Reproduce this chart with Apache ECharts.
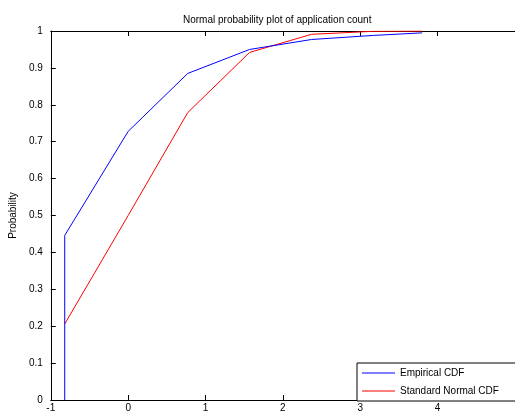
<!DOCTYPE html>
<html><head><meta charset="utf-8">
<script src="https://cdn.jsdelivr.net/npm/echarts@6/dist/echarts.min.js"></script>
<style>html,body{margin:0;padding:0;background:#fff}#c{width:515px;height:413px}</style>
</head><body><div id="c"></div>
<script>
const empX = [-0.82, -0.82, 0.0, 0.77, 1.57, 2.37, 3.17, 3.8];
const empY = [0, 0.446, 0.728, 0.885, 0.950, 0.977, 0.988, 0.995];
const normX = [-0.82, 0.0, 0.77, 1.57, 2.37, 3.17, 3.8];
const normY = [0.206, 0.5, 0.779, 0.942, 0.991, 0.9992, 0.9999];
const xTicks = [-1, 0, 1, 2, 3, 4, 5];
const yTicks = [0, 0.1, 0.2, 0.3, 0.4, 0.5, 0.6, 0.7, 0.8, 0.9, 1];
const titleText = 'Normal probability plot of application count';
const yName = 'Probability';
const names = ['Empirical CDF', 'Standard Normal CDF'];

const font = 'Liberation Sans, Arial, sans-serif';
const chart = echarts.init(document.getElementById('c'));
const axisCommon = {
  axisLine: {show: true, onZero: false, lineStyle: {color: '#000', width: 1}},
  axisTick: {show: true, inside: true, length: 5, lineStyle: {color: '#000'}},
  splitLine: {show: false}
};
chart.setOption({
  animation: false,
  title: {text: titleText, left: 178, top: 10, textStyle: {fontFamily: font, fontSize: 10, fontWeight: 'normal', color: '#000'}},
  grid: {left: 49, right: -3, top: 31, bottom: 12},
  legend: {
    orient: 'vertical', left: 357, top: 363, width: 158,
    data: names, icon: 'rect', itemWidth: 33, itemHeight: 1, itemGap: 8,
    backgroundColor: '#fff', borderColor: '#000', borderWidth: 1, borderRadius: 0,
    padding: [5, 20, 5, 5],
    textStyle: {fontFamily: font, fontSize: 10, color: '#000'}
  },
  xAxis: [
    Object.assign({type: 'value', min: xTicks[0], max: xTicks[xTicks.length-1], interval: 1,
      axisLabel: {show: true, margin: 3, fontFamily: font, fontSize: 10, color: '#000', showMaxLabel: false}}, axisCommon),
    Object.assign({type: 'value', position: 'top', min: xTicks[0], max: xTicks[xTicks.length-1], interval: 1,
      axisLabel: {show: false}}, axisCommon)
  ],
  yAxis: [
    Object.assign({type: 'value', min: yTicks[0], max: yTicks[yTicks.length-1], interval: 0.1,
      name: yName, nameLocation: 'middle', nameGap: 27,
      nameTextStyle: {fontFamily: font, fontSize: 10, color: '#000'},
      axisLabel: {margin: 8, fontFamily: font, fontSize: 10, color: '#000', formatter: v => String(+v.toFixed(1))}}, axisCommon)
  ],
  series: [
    {name: names[0], type: 'line', data: empX.map((x, i) => [x, empY[i]]), symbol: 'none',
      lineStyle: {color: '#0000ff', width: 1}, itemStyle: {color: '#0000ff'}, z: 3},
    {name: names[1], type: 'line', data: normX.map((x, i) => [x, normY[i]]), symbol: 'none',
      lineStyle: {color: '#ff0000', width: 1}, itemStyle: {color: '#ff0000'}, z: 2}
  ]
});
</script></body></html>
